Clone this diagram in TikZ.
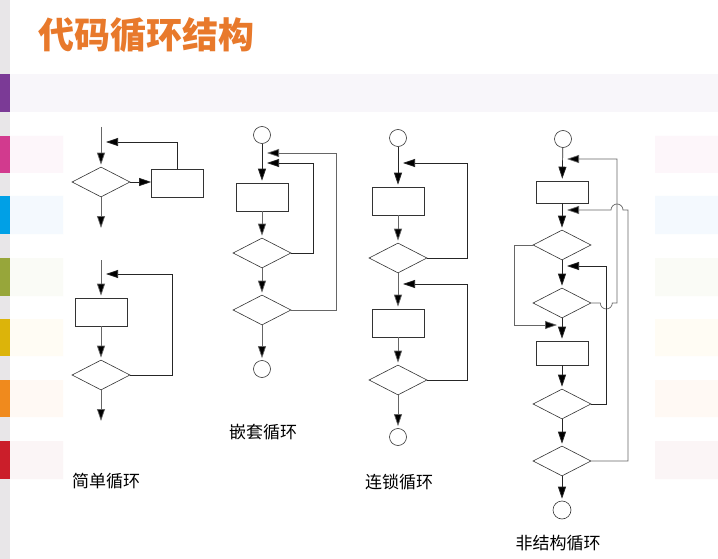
\documentclass[tikz,border=0pt]{standalone}
\usepackage{fontspec}
\newfontfamily\cjk{Noto Sans CJK SC}
\usetikzlibrary{shapes.geometric,arrows.meta}

\definecolor{titleorange}{HTML}{E8792B}
\definecolor{stripgray}{HTML}{E8E6E8}
\definecolor{stripviolet}{HTML}{7B3A96}
\definecolor{stripmagenta}{HTML}{D23A8E}
\definecolor{stripcyan}{HTML}{00A0E6}
\definecolor{stripolive}{HTML}{97A63A}
\definecolor{stripyellow}{HTML}{DCB40A}
\definecolor{striporange}{HTML}{F08A1D}
\definecolor{stripred}{HTML}{CB1E2A}
\definecolor{bandviolet}{HTML}{F8F6FA}
\definecolor{tintmagenta}{HTML}{FDF6FA}
\definecolor{tintcyan}{HTML}{F4F9FE}
\definecolor{tintolive}{HTML}{FAFBF6}
\definecolor{tintyellow}{HTML}{FFFCF4}
\definecolor{tintorange}{HTML}{FFF9F4}
\definecolor{tintred}{HTML}{FBF5F6}

\begin{document}
\begin{tikzpicture}
  \tikzset{
    decision/.style={
      diamond,
      draw=black!80,
      line width=0.6pt,
      minimum width=58pt,
      minimum height=30pt,
      inner sep=0pt
    },
    process/.style={
      rectangle,
      draw=black!80,
      line width=0.6pt,
      minimum width=52pt,
      minimum height=28pt,
      inner sep=0pt
    },
    terminal/.style={
      circle,
      draw=black!80,
      line width=0.6pt,
      minimum size=17pt,
      inner sep=0pt
    },
    flow/.style={draw=black!85, line width=0.7pt},
    flowpale/.style={draw=black!60, line width=0.7pt},
    arrowed/.style={-{Triangle[length=12pt,width=8pt,fill=black]}, shorten >=2pt},
    backarrow/.style={-{Triangle[length=12pt,width=8pt,fill=black]}, shorten >=5pt},
    caption/.style={font=\cjk\fontsize{17pt}{17pt}\selectfont, inner sep=0pt}
  }

  \useasboundingbox (0pt, 0pt) rectangle (718pt, -559pt);
  \fill[white] (0pt, 0pt) rectangle (718pt, -559pt);
  \fill[stripgray] (0pt, 0pt) rectangle (10pt, -559pt);
  \fill[stripviolet] (0pt, -74pt) rectangle (10pt, -112pt);
  \fill[bandviolet] (10pt, -74pt) rectangle (718pt, -112pt);
  \fill[stripmagenta] (0pt, -136pt) rectangle (10pt, -173pt);
  \fill[tintmagenta] (10pt, -136pt) rectangle (63pt, -173pt) (655pt, -136pt) rectangle (718pt, -173pt);
  \fill[stripcyan] (0pt, -196pt) rectangle (10pt, -234pt);
  \fill[tintcyan] (10pt, -196pt) rectangle (63pt, -234pt) (655pt, -196pt) rectangle (718pt, -234pt);
  \fill[stripolive] (0pt, -258pt) rectangle (10pt, -296pt);
  \fill[tintolive] (10pt, -258pt) rectangle (63pt, -296pt) (655pt, -258pt) rectangle (718pt, -296pt);
  \fill[stripyellow] (0pt, -319pt) rectangle (10pt, -356pt);
  \fill[tintyellow] (10pt, -319pt) rectangle (63pt, -356pt) (655pt, -319pt) rectangle (718pt, -356pt);
  \fill[striporange] (0pt, -380pt) rectangle (10pt, -417pt);
  \fill[tintorange] (10pt, -380pt) rectangle (63pt, -417pt) (655pt, -380pt) rectangle (718pt, -417pt);
  \fill[stripred] (0pt, -441pt) rectangle (10pt, -479pt);
  \fill[tintred] (10pt, -441pt) rectangle (63pt, -479pt) (655pt, -441pt) rectangle (718pt, -479pt);

  \node[font=\cjk\bfseries\fontsize{36pt}{36pt}\selectfont, text=titleorange,
        anchor=west, inner sep=0pt] (title) at (38pt, -35pt) {代码循环结构};

  % simple loops
  \node[decision] (sd1) at (101pt, -182pt) {};
  \node[process] (sb1) at (177.5pt, -183pt) {};
  \coordinate (st1) at (101pt, -127pt);
  \coordinate (sj1) at (101pt, -142pt);
  \coordinate (se1) at (101pt, -228pt);
  \draw[flowpale, arrowed] (st1) -- (sd1);
  \draw[flow, arrowed, shorten >=0pt] (sd1.east) -- (sd1.east -| sb1.west);
  \draw[flow, backarrow] (sb1.north) |- (sj1);
  \draw[flowpale, arrowed, shorten >=0pt] (sd1) -- (se1);

  \node[process] (sb2) at (101pt, -312pt) {};
  \node[decision] (sd2) at (101pt, -375pt) {};
  \coordinate (st2) at (101pt, -260pt);
  \coordinate (sj2) at (101pt, -274pt);
  \coordinate (sk2) at (172pt, -274pt);
  \coordinate (se2) at (101pt, -421pt);
  \draw[flowpale, arrowed] (st2) -- (sb2);
  \draw[flowpale, arrowed] (sb2) -- (sd2);
  \draw[flow, backarrow] (sd2.east) -| (sk2) -- (sj2);
  \draw[flowpale, arrowed, shorten >=0pt] (sd2) -- (se2);
  \node[caption] (simplecap) at (106pt, -481pt) {简单循环};

  % nested loop
  \node[terminal] (nt) at (262pt, -135pt) {};
  \node[process] (nb) at (262pt, -197pt) {};
  \node[decision] (nd1) at (262pt, -253pt) {};
  \node[decision] (nd2) at (262pt, -310pt) {};
  \node[terminal] (ne) at (262pt, -369pt) {};
  \coordinate (nj1) at (262pt, -163pt);
  \coordinate (nk1) at (313pt, -163pt);
  \coordinate (nj2) at (262pt, -153pt);
  \coordinate (nk2) at (336pt, -153pt);
  \draw[flow, arrowed] (nt) -- (nb);
  \draw[flowpale, arrowed] (nb) -- (nd1);
  \draw[flowpale, arrowed] (nd1) -- (nd2);
  \draw[flowpale, arrowed] (nd2) -- (ne);
  \draw[flow, backarrow] (nd1.east) -| (nk1) -- (nj1);
  \draw[flowpale, backarrow] (nd2.east) -| (nk2) -- (nj2);
  \node[caption] (nestcap) at (263pt, -432pt) {嵌套循环};

  % chained loops
  \node[terminal] (lt) at (398pt, -138pt) {};
  \node[process] (lb1) at (398pt, -201pt) {};
  \node[decision] (ld1) at (398pt, -258pt) {};
  \node[process] (lb2) at (398pt, -323pt) {};
  \node[decision] (ld2) at (398pt, -380pt) {};
  \node[terminal] (le) at (398pt, -437pt) {};
  \coordinate (lj1) at (398pt, -163pt);
  \coordinate (lk1) at (467pt, -163pt);
  \coordinate (lj2) at (398pt, -284pt);
  \coordinate (lk2) at (467pt, -284pt);
  \draw[flow, arrowed] (lt) -- (lb1);
  \draw[flowpale, arrowed] (lb1) -- (ld1);
  \draw[flowpale, arrowed] (ld1) -- (lb2);
  \draw[flowpale, arrowed] (lb2) -- (ld2);
  \draw[flowpale, arrowed] (ld2) -- (le);
  \draw[flow, backarrow] (ld1.east) -| (lk1) -- (lj1);
  \draw[flow, backarrow] (ld2.east) -| (lk2) -- (lj2);
  \node[caption] (chaincap) at (399pt, -482pt) {连锁循环};

  % unstructured loop
  \node[terminal] (ut) at (563pt, -139pt) {};
  \node[process, minimum height=22pt] (ub1) at (562pt, -192pt) {};
  \node[decision] (ud1) at (562pt, -245pt) {};
  \node[decision] (ud2) at (562pt, -303pt) {};
  \node[process, minimum height=24pt] (ub2) at (562pt, -353pt) {};
  \node[decision] (ud3) at (562pt, -404pt) {};
  \node[decision] (ud4) at (562pt, -461pt) {};
  \node[terminal, minimum size=18pt] (ue) at (562pt, -510pt) {};
  \coordinate (uj1) at (562pt, -159pt);
  \coordinate (uk1) at (617pt, -159pt);
  \coordinate (uj2) at (562pt, -210pt);
  \coordinate (uk2) at (628pt, -210pt);
  \coordinate (uj3) at (562pt, -266pt);
  \coordinate (uk3) at (606pt, -266pt);
  \coordinate (uj4) at (562pt, -325pt);
  \coordinate (uk4) at (514pt, -325pt);
  \draw[flow, arrowed] (ut) -- (ub1);
  \draw[flow, arrowed] (ub1) -- (ud1);
  \draw[flow, arrowed] (ud1) -- (ud2);
  \draw[flow, arrowed] (ud2) -- (ub2);
  \draw[flow, arrowed] (ub2) -- (ud3);
  \draw[flow, arrowed] (ud3) -- (ud4);
  \draw[flow, arrowed] (ud4) -- (ue);
  \draw[flowpale, backarrow] (ud2.east) -- ++(9pt, 0pt)
    arc[start angle=180, end angle=360, radius=6pt] -| (uk1) -- (uj1);
  \draw[flowpale, backarrow] (ud4.east) -| (uk2) -- ++(-5pt, 0pt)
    arc[start angle=0, end angle=180, radius=6pt] -- (uj2);
  \draw[flow, backarrow] (ud3.east) -| (uk3) -- (uj3);
  \draw[flowpale, backarrow] (ud1.west) -| (uk4) -- (uj4);
  \node[caption] (unstrcap) at (558pt, -543pt) {非结构循环};
\end{tikzpicture}
\end{document}
